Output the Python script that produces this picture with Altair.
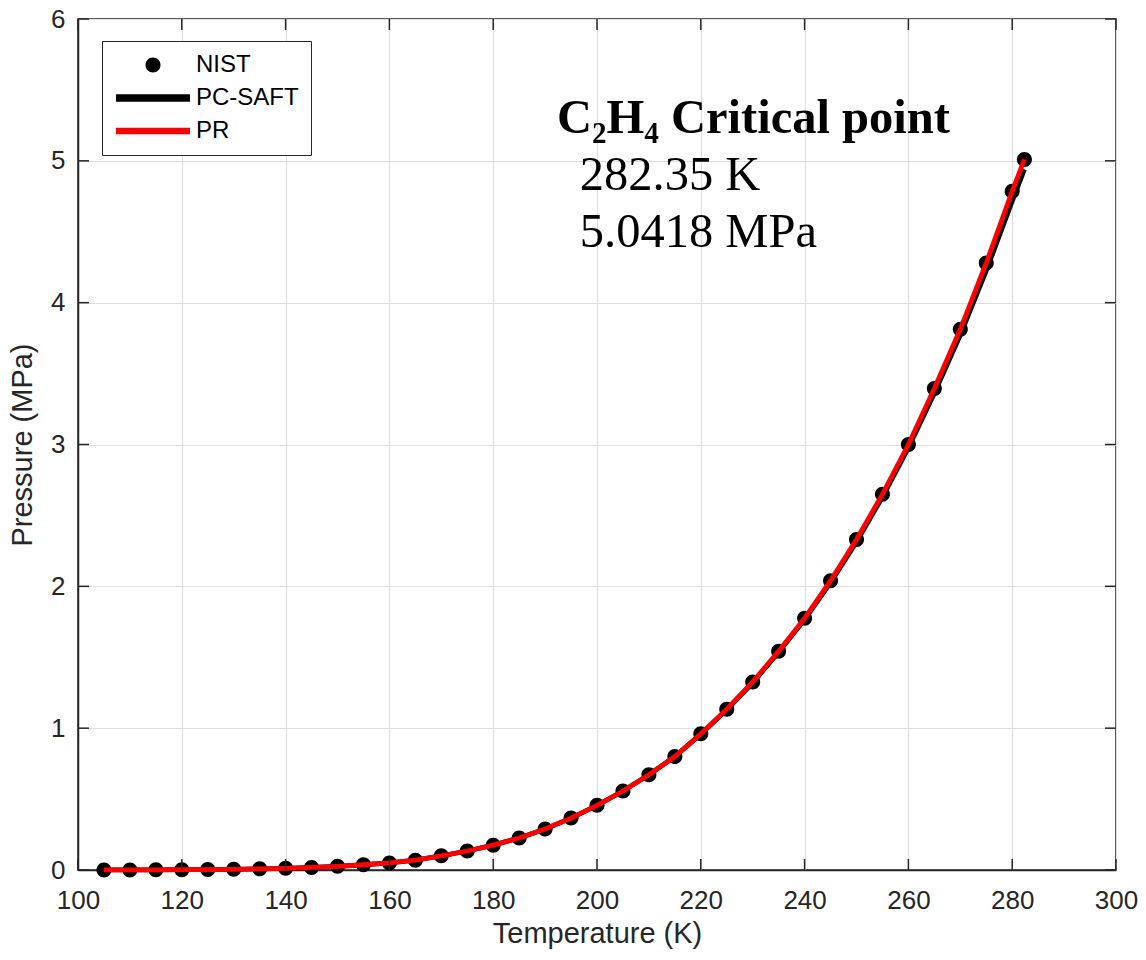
import altair as alt
import pandas as pd

# ---- data ----
T_nist = [105, 110, 115, 120, 125, 130, 135, 140, 145, 150, 155, 160, 165, 170, 175,
          180, 185, 190, 195, 200, 205, 210, 215, 220, 225, 230, 235, 240, 245, 250,
          255, 260, 265, 270, 275, 280, 282.35]
P_nist = [0.0003, 0.0006, 0.0011, 0.002, 0.003, 0.005, 0.008, 0.012, 0.018, 0.026,
          0.037, 0.050, 0.069, 0.100, 0.134, 0.175, 0.226, 0.289, 0.366, 0.456,
          0.557, 0.672, 0.800, 0.960, 1.134, 1.326, 1.543, 1.775, 2.040, 2.330,
          2.650, 3.000, 3.395, 3.812, 4.280, 4.785, 5.010]

T_model = [105, 110, 115, 120, 125, 130, 135, 140, 145, 150, 155, 160, 165, 170, 175,
           180, 185, 190, 195, 200, 205, 210, 215, 220, 225, 230, 235, 240, 245, 250,
           255, 260, 265, 270, 275, 280, 282.35]
P_pcsaft = [0.0003, 0.0006, 0.0011, 0.002, 0.003, 0.005, 0.008, 0.012, 0.018, 0.026,
            0.037, 0.050, 0.069, 0.100, 0.134, 0.175, 0.226, 0.289, 0.366, 0.456,
            0.557, 0.672, 0.800, 0.958, 1.130, 1.320, 1.535, 1.765, 2.025, 2.312,
            2.630, 2.975, 3.362, 3.772, 4.225, 4.715, 4.940]
P_pr = [0.0003, 0.0006, 0.0011, 0.002, 0.003, 0.005, 0.008, 0.012, 0.018, 0.026,
        0.037, 0.050, 0.069, 0.100, 0.134, 0.175, 0.226, 0.289, 0.366, 0.456,
        0.557, 0.672, 0.800, 0.960, 1.134, 1.326, 1.543, 1.775, 2.040, 2.330,
        2.650, 3.000, 3.395, 3.812, 4.280, 4.785, 5.010]

series_names = ["NIST", "PC-SAFT", "PR"]
series_colors = ["#000000", "#000000", "#ff0000"]

x_ticks = [100, 120, 140, 160, 180, 200, 220, 240, 260, 280, 300]
y_ticks = [0, 1, 2, 3, 4, 5, 6]

annot_text = ["C\u2082H\u2084 Critical point", "282.35 K", "5.0418 MPa"]
annot_T = [192.3, 196.7, 196.7]
annot_P = [5.197, 4.795, 4.395]
annot_bold = ["bold", "normal", "normal"]

# ---- layout ----
W, H = 1038, 851
X_MIN, X_MAX, Y_MIN, Y_MAX = 100, 300, 0, 6
TICK_PX = 11
DARK = "#262626"
SANS = "Liberation Sans"
SERIF = "Liberation Serif"

nist = pd.DataFrame({"T": T_nist, "P": P_nist, "series": "NIST"})
model = pd.concat([
    pd.DataFrame({"T": T_model, "P": P_pcsaft, "series": "PC-SAFT"}),
    pd.DataFrame({"T": T_model, "P": P_pr, "series": "PR"}),
])

xs = alt.Scale(domain=[X_MIN, X_MAX], nice=False, zero=False)
ys = alt.Scale(domain=[Y_MIN, Y_MAX], nice=False, zero=False)
cs = alt.Scale(domain=series_names, range=series_colors)

# legend glyph paths (unit = half of sqrt(symbolSize) px = 10 px)
circle_path = "M-0.75,0A0.75,0.75 0 1,0 0.75,0A0.75,0.75 0 1,0 -0.75,0Z"
thick_bar = "M-3.7,-0.37H3.7V0.37H-3.7Z"
thin_bar = "M-3.7,-0.33H3.7V0.33H-3.7Z"
ss = alt.Scale(domain=series_names, range=[circle_path, thick_bar, thin_bar])

X = alt.X("T:Q", scale=xs, axis=alt.Axis(
    title="Temperature (K)", values=x_ticks, grid=True, ticks=False, format="d",
    labelFlush=False, labelFontSize=26, labelPadding=17,
    titleFontSize=29, titlePadding=6))
Y = alt.Y("P:Q", scale=ys, axis=alt.Axis(
    title="Pressure (MPa)", values=y_ticks, grid=True, ticks=False, format="d",
    labelFlush=False, labelFontSize=26, labelPadding=13,
    titleFontSize=29, titlePadding=13))

legend = alt.Legend(
    title=None, orient="none", legendX=24, legendY=22,
    labelFont=SANS, labelFontSize=24, labelColor="#000000",
    symbolSize=400, symbolOffset=27, labelOffset=31,
    symbolStrokeWidth=0, symbolOpacity=1,
    strokeColor=DARK, fillColor="#ffffff", padding=12, rowPadding=9)

points = alt.Chart(nist).mark_point(filled=True, size=400, opacity=1, strokeWidth=0).encode(
    x=X, y=Y,
    color=alt.Color("series:N", scale=cs, legend=legend),
    shape=alt.Shape("series:N", scale=ss, legend=legend),
)

line_black = alt.Chart(model).transform_filter(alt.datum.series == "PC-SAFT").mark_line(strokeWidth=4.8).encode(
    x=alt.X("T:Q", scale=xs), y=alt.Y("P:Q", scale=ys),
    color=alt.Color("series:N", scale=cs, legend=None))
line_red = alt.Chart(model).transform_filter(alt.datum.series == "PR").mark_line(strokeWidth=4.8).encode(
    x=alt.X("T:Q", scale=xs), y=alt.Y("P:Q", scale=ys),
    color=alt.Color("series:N", scale=cs, legend=None))

# inward ticks on all four sides
ty = TICK_PX / H * (Y_MAX - Y_MIN)
tx = TICK_PX / W * (X_MAX - X_MIN)
xt = pd.DataFrame({"v": x_ticks})
yt = pd.DataFrame({"v": y_ticks})
tick_style = dict(color=DARK, strokeWidth=1.5)
ticks = alt.layer(
    alt.Chart(xt).mark_rule(**tick_style).encode(
        x=alt.X("v:Q", scale=xs), y=alt.datum(Y_MIN), y2=alt.datum(Y_MIN + ty)),
    alt.Chart(xt).mark_rule(**tick_style).encode(
        x=alt.X("v:Q", scale=xs), y=alt.datum(Y_MAX), y2=alt.datum(Y_MAX - ty)),
    alt.Chart(yt).mark_rule(**tick_style).encode(
        y=alt.Y("v:Q", scale=ys), x=alt.datum(X_MIN), x2=alt.datum(X_MIN + tx)),
    alt.Chart(yt).mark_rule(**tick_style).encode(
        y=alt.Y("v:Q", scale=ys), x=alt.datum(X_MAX), x2=alt.datum(X_MAX - tx)),
)

annot = pd.DataFrame({"text": annot_text, "T": annot_T, "P": annot_P, "w": annot_bold})
txt_bold = alt.Chart(annot).transform_filter(alt.datum.w == "bold").mark_text(
    align="left", baseline="alphabetic", font=SERIF, fontSize=48.5, fontWeight="bold",
    color="#000000").encode(x=alt.X("T:Q", scale=xs), y=alt.Y("P:Q", scale=ys), text="text:N")
txt_norm = alt.Chart(annot).transform_filter(alt.datum.w == "normal").mark_text(
    align="left", baseline="alphabetic", font=SERIF, fontSize=48.5,
    color="#000000").encode(x=alt.X("T:Q", scale=xs), y=alt.Y("P:Q", scale=ys), text="text:N")

chart = alt.layer(points, line_black, line_red, ticks, txt_bold, txt_norm).properties(
    width=W, height=H,
    padding={"left": 70, "top": 11, "right": 22, "bottom": 80},
    autosize=alt.AutoSizeParams(type="none"),
).configure(
    background="white"
).configure_view(
    stroke=DARK, strokeWidth=1.5
).configure_axis(
    labelFont=SANS, titleFont=SANS, labelColor=DARK, titleColor=DARK,
    titleFontWeight="normal", domainColor=DARK, domainWidth=1.5,
    gridColor="#dfdfdf", gridWidth=1,
)

chart.save("out.html", embed_options={"renderer": "svg", "actions": False})
